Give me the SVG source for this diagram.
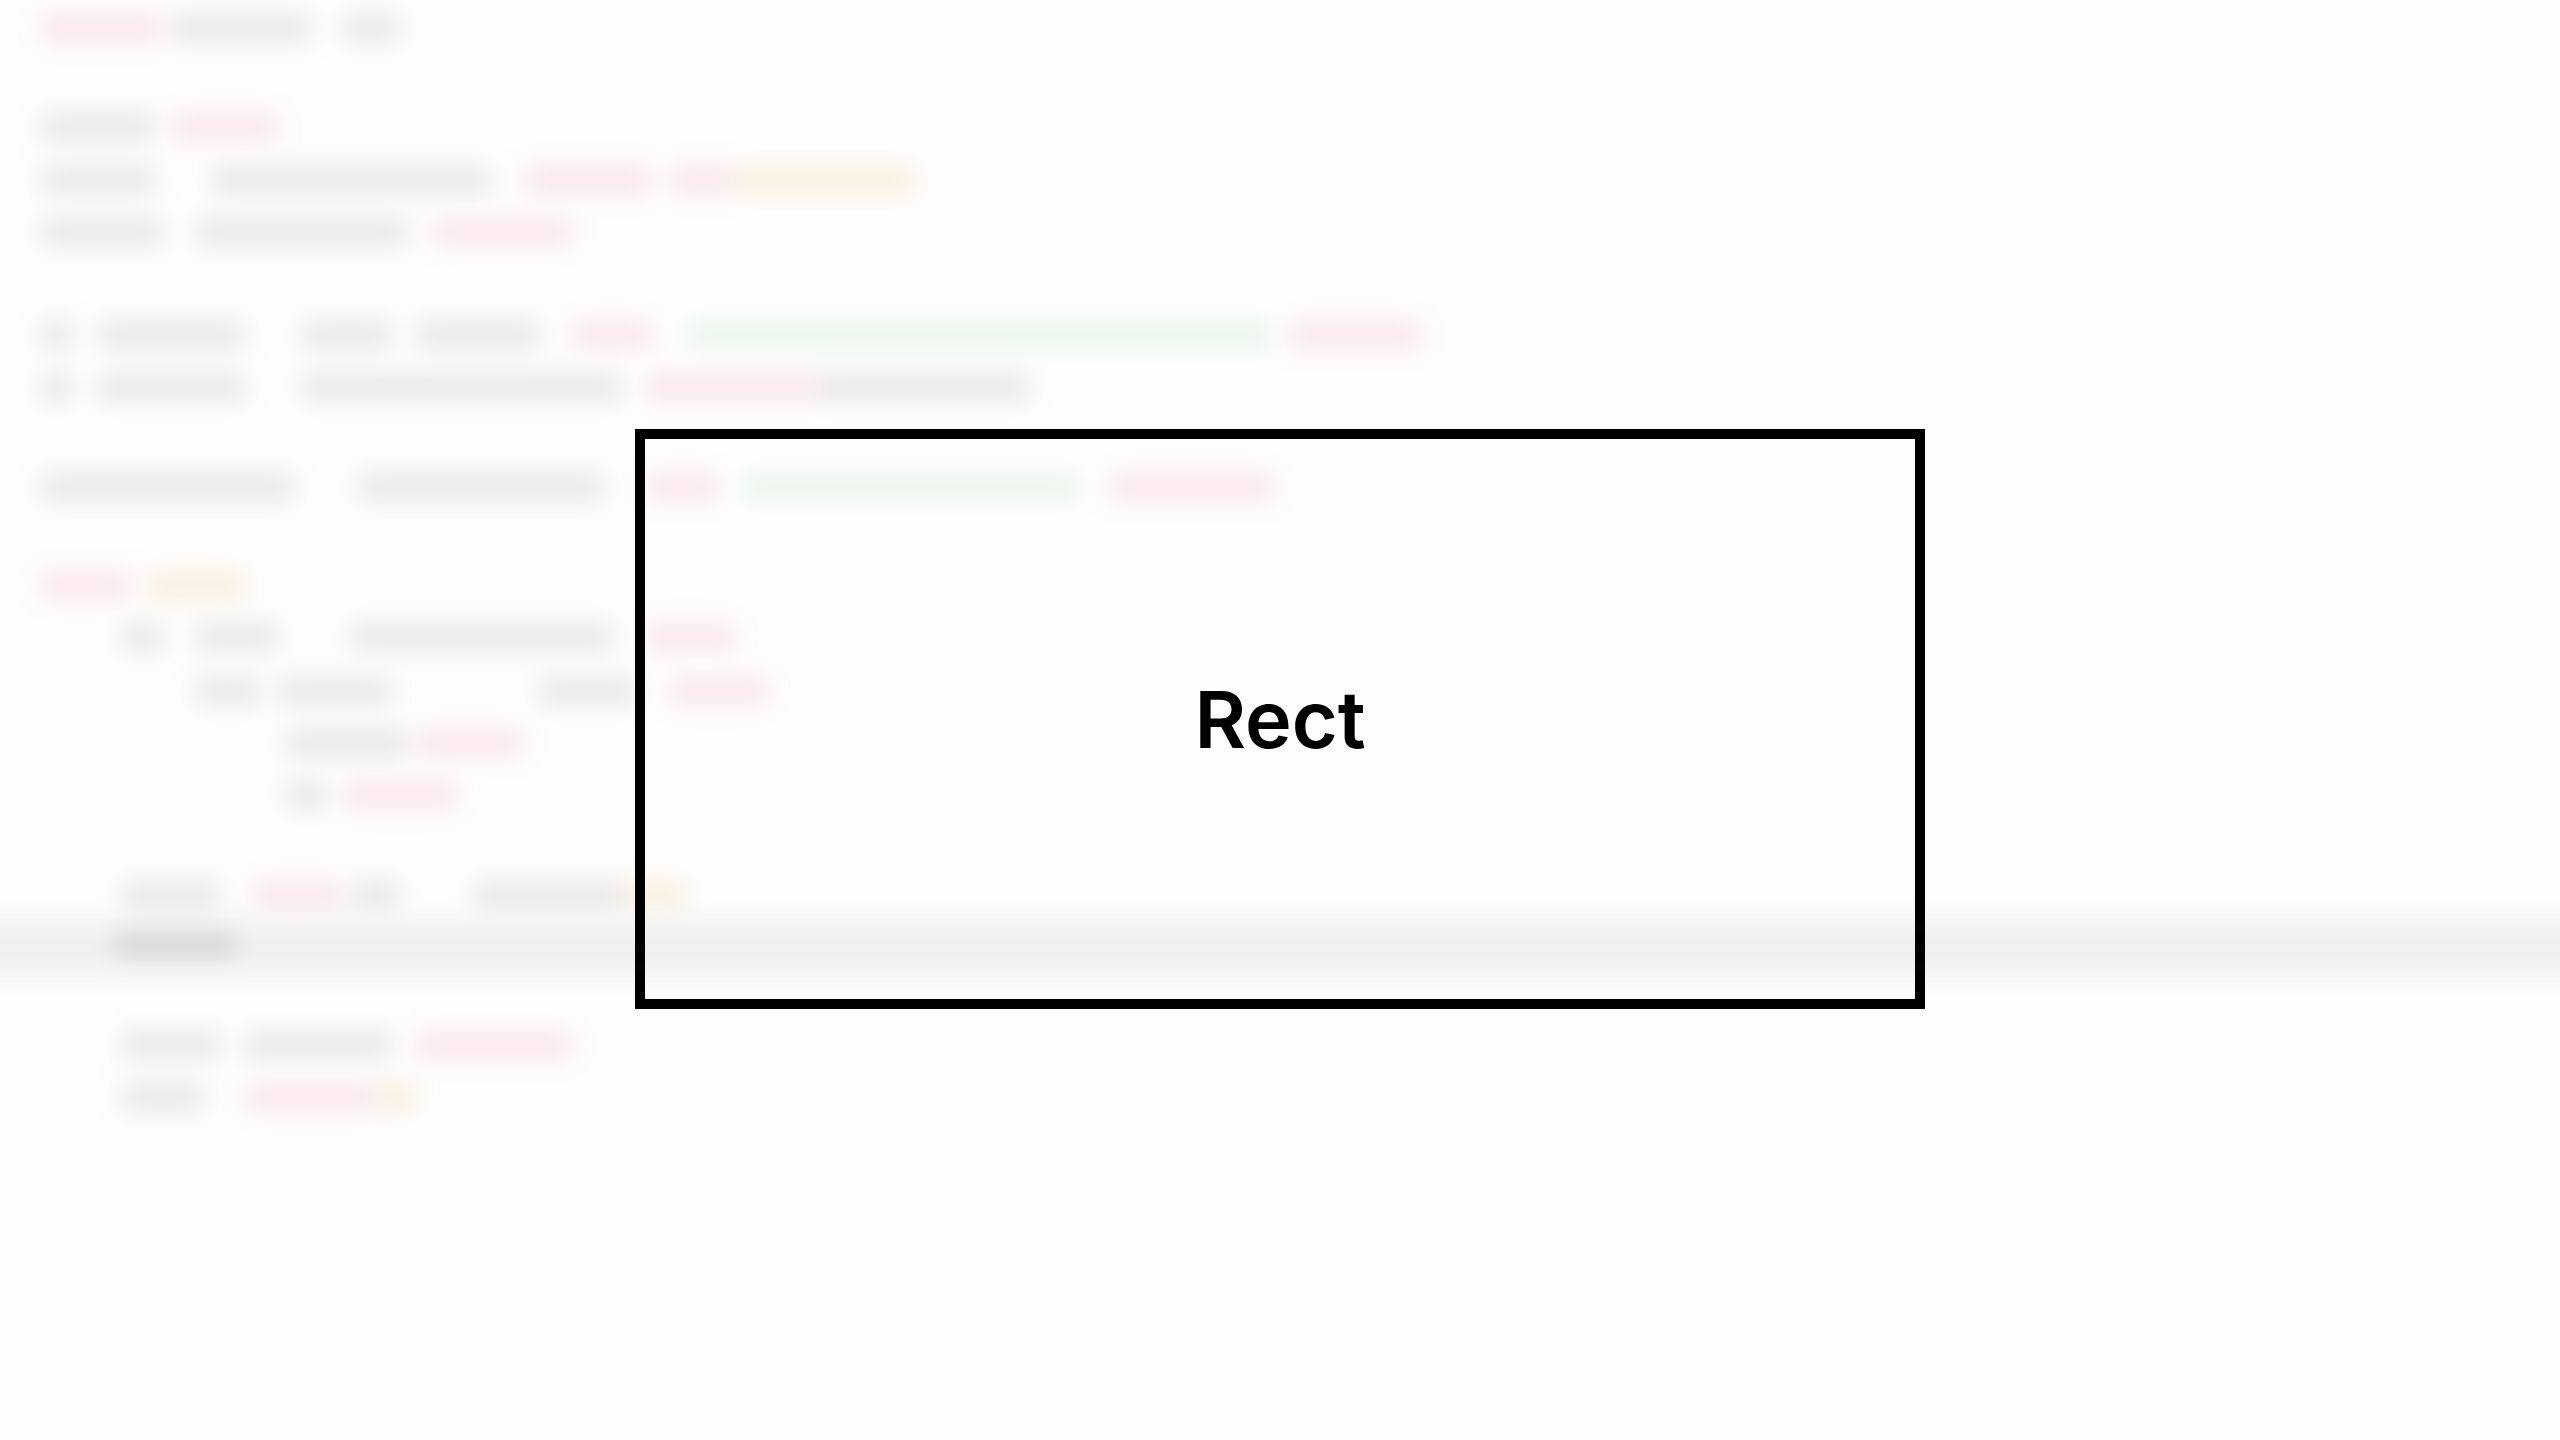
<svg xmlns="http://www.w3.org/2000/svg" width="2560" height="1440" viewBox="0 0 2560 1440">
<style>
.g{fill:#c4c4c4;opacity:.32}
.p{fill:#f0a0b4;opacity:.22}
.n{fill:#a8dab4;opacity:.18}
.y{fill:#f0d08a;opacity:.25}
.lbl{font-family:Inter,"Liberation Sans",sans-serif;font-weight:600;font-size:79px;fill:#000}
</style>
<defs>
<filter id="blur" x="-10%" y="-10%" width="120%" height="120%"><feGaussianBlur stdDeviation="11"/></filter>
<filter id="blurBand" x="-5%" y="-50%" width="110%" height="200%"><feGaussianBlur stdDeviation="10"/></filter>
</defs>
<rect width="2560" height="1440" fill="#fdfdfd"/>
<g id="background" filter="url(#blur)">
<rect x="-40" y="922" width="2640" height="52" fill="#efefef" filter="url(#blurBand)"/>
<g transform="translate(0,-15)">
<rect class="p" x="41" y="28" width="122" height="30" rx="8"/><rect class="g" x="171" y="28" width="139" height="30" rx="8"/><rect class="g" x="343" y="28" width="57" height="30" rx="8"/>
<rect class="g" x="41" y="127" width="114" height="30" rx="8"/><rect class="p" x="171" y="127" width="107" height="30" rx="8"/>
<rect class="g" x="41" y="180" width="114" height="30" rx="8"/><rect class="g" x="212" y="180" width="278" height="30" rx="8"/><rect class="p" x="523" y="180" width="130" height="30" rx="8"/><rect class="p" x="670" y="180" width="65" height="30" rx="8"/><rect class="y" x="735" y="180" width="180" height="30" rx="8"/>
<rect class="g" x="41" y="232" width="122" height="30" rx="8"/><rect class="g" x="196" y="232" width="212" height="30" rx="8"/><rect class="p" x="433" y="232" width="139" height="30" rx="8"/>
<rect class="g" x="41" y="335" width="32" height="30" rx="8"/><rect class="g" x="98" y="335" width="147" height="30" rx="8"/><rect class="g" x="302" y="335" width="90" height="30" rx="8"/><rect class="g" x="416" y="335" width="123" height="30" rx="8"/><rect class="p" x="572" y="335" width="81" height="30" rx="8"/><rect class="n" x="686" y="335" width="588" height="30" rx="8"/><rect class="p" x="1290" y="335" width="131" height="30" rx="8"/>
<rect class="g" x="41" y="387" width="32" height="30" rx="8"/><rect class="g" x="98" y="387" width="147" height="30" rx="8"/><rect class="g" x="302" y="387" width="319" height="30" rx="8"/><rect class="p" x="645" y="387" width="172" height="30" rx="8"/><rect class="g" x="817" y="387" width="212" height="30" rx="8"/>
<rect class="g" x="41" y="487" width="253" height="30" rx="8"/><rect class="g" x="359" y="487" width="245" height="30" rx="8"/><rect class="p" x="645" y="487" width="74" height="30" rx="8"/><rect class="n" x="743" y="487" width="335" height="30" rx="8"/><rect class="p" x="1110" y="487" width="164" height="30" rx="8"/>
<rect class="p" x="41" y="585" width="90" height="30" rx="8"/><rect class="y" x="147" y="585" width="98" height="30" rx="8"/>
<rect class="g" x="122" y="637" width="41" height="30" rx="8"/><rect class="g" x="196" y="637" width="82" height="30" rx="8"/><rect class="g" x="351" y="637" width="261" height="30" rx="8"/><rect class="p" x="645" y="637" width="90" height="30" rx="8"/>
<rect class="g" x="196" y="691" width="65" height="30" rx="8"/><rect class="g" x="278" y="691" width="114" height="30" rx="8"/><rect class="g" x="539" y="691" width="98" height="30" rx="8"/><rect class="p" x="670" y="691" width="98" height="30" rx="8"/>
<rect class="g" x="286" y="743" width="122" height="30" rx="8"/><rect class="p" x="416" y="743" width="107" height="30" rx="8"/>
<rect class="g" x="286" y="795" width="41" height="30" rx="8"/><rect class="p" x="343" y="795" width="114" height="30" rx="8"/>
<rect class="g" x="122" y="895" width="98" height="30" rx="8"/><rect class="p" x="253" y="895" width="90" height="30" rx="8"/><rect class="g" x="351" y="895" width="49" height="30" rx="8"/><rect class="g" x="474" y="895" width="147" height="30" rx="8"/><rect class="y" x="621" y="895" width="65" height="30" rx="8"/>
<rect class="g" x="114" y="944" width="123" height="30" rx="8" style="opacity:.5"/>
<rect class="g" x="122" y="1045" width="98" height="30" rx="8"/><rect class="g" x="245" y="1045" width="147" height="30" rx="8"/><rect class="p" x="416" y="1045" width="156" height="30" rx="8"/>
<rect class="g" x="122" y="1097" width="82" height="30" rx="8"/><rect class="p" x="245" y="1097" width="131" height="30" rx="8"/><rect class="y" x="376" y="1097" width="40" height="30" rx="8"/>
</g>
</g>
<g id="node-rect">
<rect x="640" y="434" width="1280" height="570" fill="none" stroke="#000" stroke-width="10"/>
<text class="lbl" x="1280" y="748" text-anchor="middle">Rect</text>
</g>
<g id="connectors"/>
</svg>
